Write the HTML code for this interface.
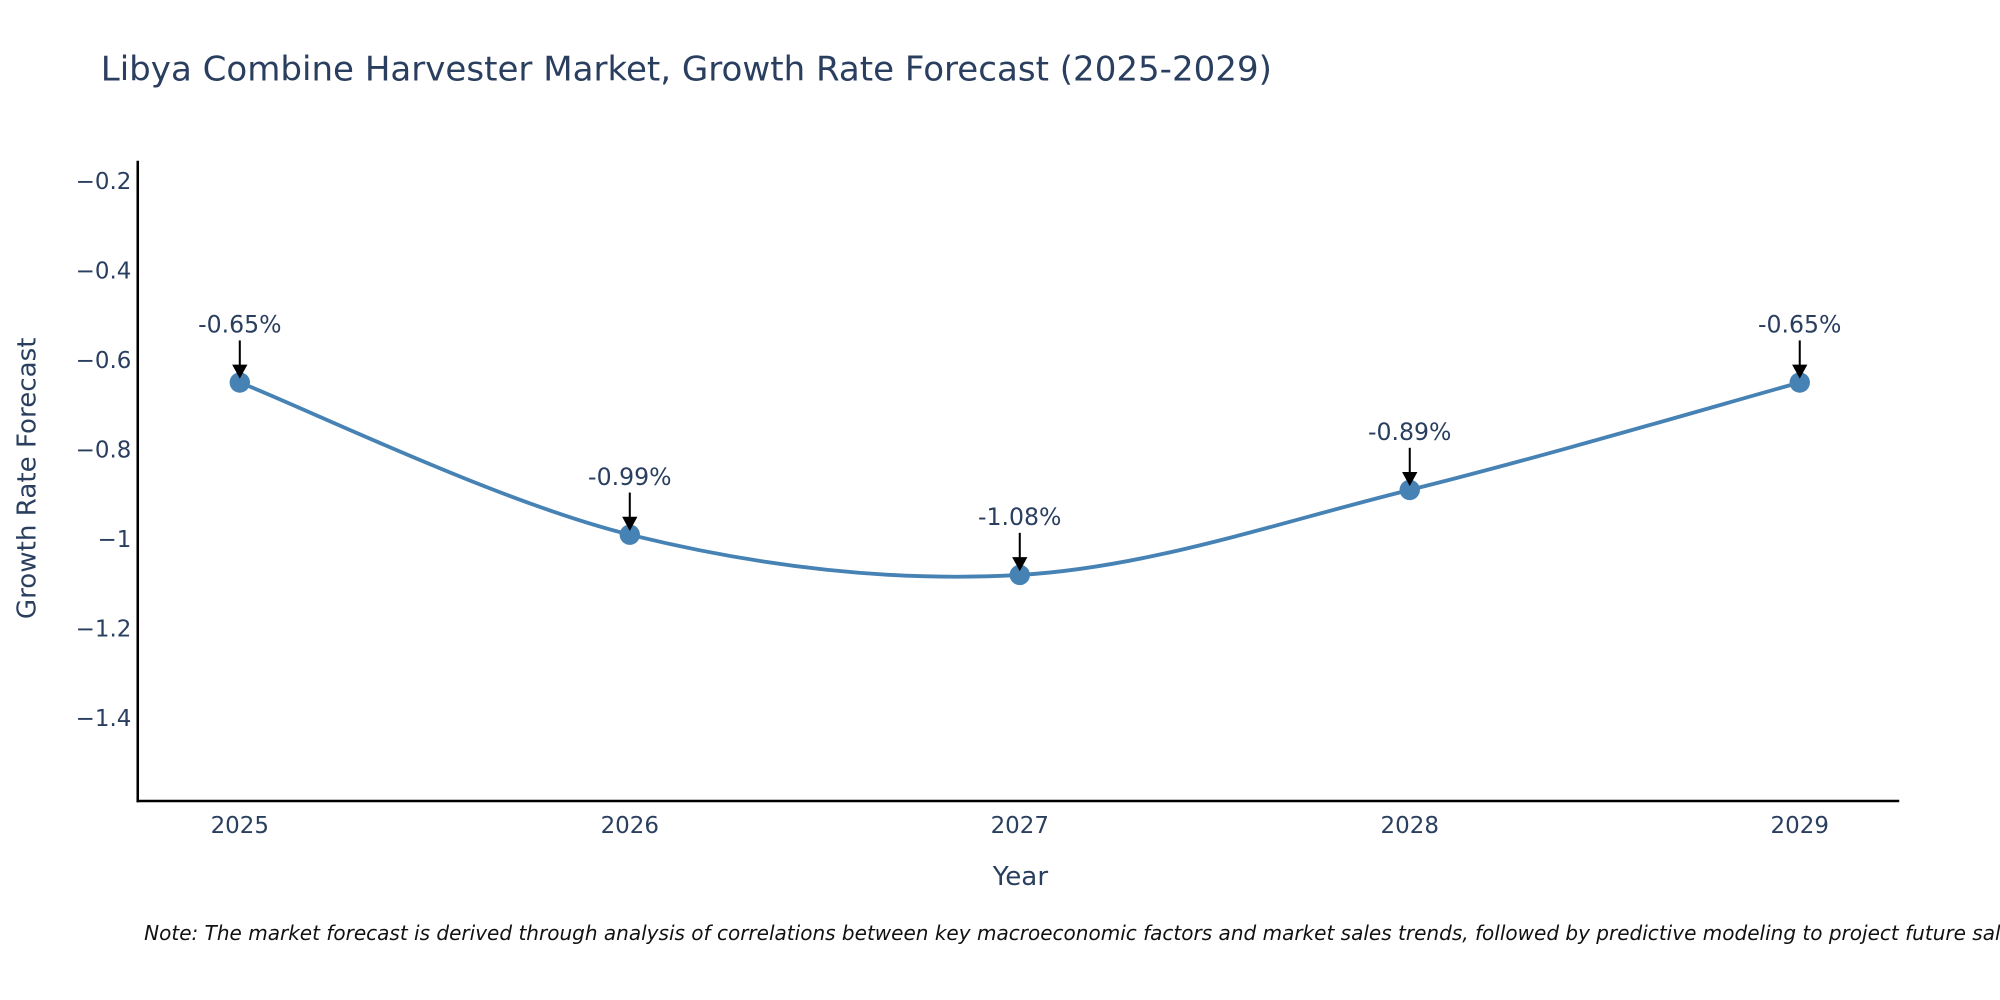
<!DOCTYPE html>
<html><head><meta charset="utf-8"><style>
html,body{margin:0;padding:0;background:#fff;}
svg{display:block;font-family:"DejaVu Sans","Liberation Sans",sans-serif;}
</style></head><body>
<svg id="chart" width="2000" height="1000" viewBox="0 0 1568 784" xmlns="http://www.w3.org/2000/svg">
<rect width="1568" height="784" fill="#fff"/>
<text x="79" y="63" font-size="26.7" fill="#2a3f5f">Libya Combine Harvester Market, Growth Rate Forecast (2025-2029)</text>
<g id="yticks"></g>
<g id="xticks"></g>
<line x1="108" y1="126" x2="108" y2="629" stroke="#000" stroke-width="2"/>
<line x1="107" y1="628" x2="1489" y2="628" stroke="#000" stroke-width="2"/>
<text transform="translate(28,375) rotate(-90)" text-anchor="middle" font-size="20.5" fill="#2a3f5f">Growth Rate Forecast</text>
<text x="800" y="694" text-anchor="middle" font-size="20.5" fill="#2a3f5f">Year</text>
<g id="series"></g>
<g id="annotations"></g>
<text x="113" y="737" font-size="15.7" font-style="italic" fill="#111">Note: The market forecast is derived through analysis of correlations between key macroeconomic factors and market sales trends, followed by predictive modeling to project future sales.</text>
</svg>
<script>
const years = [2025, 2026, 2027, 2028, 2029];
const values = [-0.65, -0.99, -1.08, -0.89, -0.65];
const yTickValues = [-0.2, -0.4, -0.6, -0.8, -1, -1.2, -1.4];
const yTickLabels = ["\u22120.2", "\u22120.4", "\u22120.6", "\u22120.8", "\u22121", "\u22121.2", "\u22121.4"];

const NS = "http://www.w3.org/2000/svg";
function xS(yr){ return 188 + (yr - 2025) * 305.75; }
function yS(v){ return 142 + (-0.2 - v) / 0.2 * 70.17; }
function mk(tag, attrs, parent){
  const e = document.createElementNS(NS, tag);
  for (const k in attrs) e.setAttribute(k, attrs[k]);
  parent.appendChild(e); return e;
}
const yt = document.getElementById('yticks');
yTickValues.forEach((v,i)=>{
  const t = mk('text',{x:103,y:yS(v)+6,'text-anchor':'end','font-size':18,fill:'#2a3f5f'},yt);
  
  
  t.textContent = yTickLabels[i];
});
const xt = document.getElementById('xticks');
years.forEach(yr=>{
  const t = mk('text',{x:xS(yr),y:653,'text-anchor':'middle','font-size':18,fill:'#2a3f5f'},xt);
  
  
  t.textContent = String(yr);
});
const pts = years.map((yr,i)=>[xS(yr), yS(values[i])]);
let d = `M${pts[0][0]},${pts[0][1]}`;
const s = 1/6;
for (let i=0;i<pts.length-1;i++){
  const p0 = pts[Math.max(0,i-1)], p1 = pts[i], p2 = pts[i+1], p3 = pts[Math.min(pts.length-1,i+2)];
  const c1 = [p1[0]+(p2[0]-p0[0])*s, p1[1]+(p2[1]-p0[1])*s];
  const c2 = [p2[0]-(p3[0]-p1[0])*s, p2[1]-(p3[1]-p1[1])*s];
  d += ` C${c1[0]},${c1[1]} ${c2[0]},${c2[1]} ${p2[0]},${p2[1]}`;
}
const ser = document.getElementById('series');
const line = mk('path',{d:d,fill:'none',stroke:'#4682b4','stroke-width':3},ser);


pts.forEach(p=>{
  const c = mk('circle',{cx:p[0],cy:p[1],r:8,fill:'#4682b4'},ser);
  
  
});
const an = document.getElementById('annotations');
pts.forEach((p,i)=>{
  const g = mk('g',{},an);
  
  
  mk('line',{x1:p[0],y1:p[1]-33,x2:p[0],y2:p[1]-12,stroke:'#000','stroke-width':1.6},g);
  mk('path',{d:`M${p[0]-6},${p[1]-14} L${p[0]+6},${p[1]-14} L${p[0]},${p[1]-3} Z`,fill:'#000'},g);
  const t = mk('text',{x:p[0],y:p[1]-39,'text-anchor':'middle','font-size':18.5,fill:'#2a3f5f'},g);
  t.textContent = values[i].toFixed(2) + '%';
});
</script>
</body></html>
